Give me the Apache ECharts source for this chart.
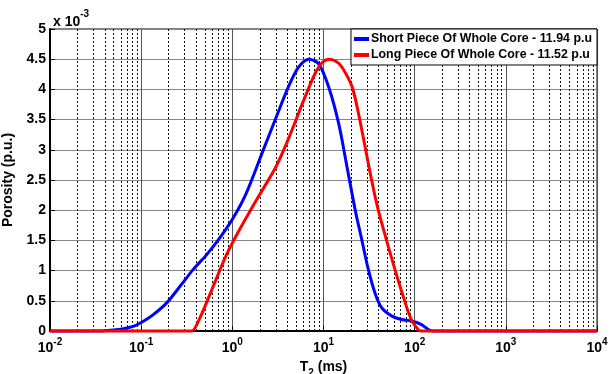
<!DOCTYPE html>
<html>
<head>
<meta charset="utf-8">
<script src="https://cdn.jsdelivr.net/npm/echarts@6/dist/echarts.min.js"></script>
<style>
  html, body { margin: 0; padding: 0; background: #fff; }
  #chart { width: 610px; height: 374px; }
</style>
</head>
<body>
<div id="chart"></div>
<script>
// T2 in ms, porosity in units of 1e-3 p.u.
var shortT2 = [0.01, 0.0251, 0.0398, 0.0596, 0.0832, 0.107, 0.137, 0.192, 0.267, 0.373, 0.521, 0.728, 1.02, 1.42, 2.15, 3.01, 4.20, 5.40, 6.92, 8.89, 11.4, 14.7, 18.2, 22.3, 26.3, 31.0, 36.7, 43.4, 55.7, 71.4, 91.8, 117.5, 139.6, 158.5, 251, 10000];
var shortPor = [0, 0, 0.005, 0.03, 0.08, 0.165, 0.275, 0.47, 0.74, 1.02, 1.26, 1.54, 1.87, 2.28, 2.97, 3.53, 4.07, 4.38, 4.50, 4.42, 4.04, 3.43, 2.7, 2.0, 1.51, 1.02, 0.63, 0.385, 0.25, 0.19, 0.165, 0.11, 0.03, 0, 0, 0];
var longT2 = [0.01, 0.316, 0.358, 0.442, 0.617, 0.861, 1.20, 1.67, 1.98, 3.01, 4.20, 5.85, 8.18, 9.77, 11.75, 13.8, 15.9, 20.5, 24.2, 33.7, 39.9, 49.0, 60.7, 74.6, 91.8, 108.6, 117.5, 158.5, 10000];
var longPor = [0, 0, 0, 0.22, 0.74, 1.26, 1.68, 2.06, 2.25, 2.72, 3.21, 3.76, 4.28, 4.45, 4.50, 4.46, 4.37, 4.05, 3.6, 2.5, 2.0, 1.51, 1.02, 0.58, 0.19, 0.03, 0, 0, 0];
var seriesNames = ['Short Piece Of Whole Core - 11.94 p.u', 'Long Piece Of Whole Core - 11.52 p.u'];
var yTicks = [0, 0.5, 1, 1.5, 2, 2.5, 3, 3.5, 4, 4.5, 5];
var decades = [0.01, 0.1, 1, 10, 100, 1000, 10000];
var minorSteps = [2, 3, 4, 5, 6, 7, 8, 9];

var FONT = 'Liberation Sans';

function pairs(xs, ys) {
  var out = [];
  for (var i = 0; i < xs.length; i++) out.push([xs[i], ys[i]]);
  return out;
}

// dotted minor grid lines at 2..9 x each decade
var minorLines = [];
for (var d = 0; d < decades.length - 1; d++) {
  for (var k = 0; k < minorSteps.length; k++) {
    minorLines.push({ xAxis: decades[d] * minorSteps[k] });
  }
}

var chart = echarts.init(document.getElementById('chart'), null, { renderer: 'canvas' });

var option = {
  animation: false,
  backgroundColor: '#fff',
  textStyle: { fontFamily: FONT },
  title: {
    left: 48, top: 4,
    text: '{b|x 10}{s|-3}',
    textStyle: {
      rich: {
        b: { fontFamily: FONT, fontWeight: 'bold', fontSize: 14, color: '#000', verticalAlign: 'bottom', lineHeight: 20 },
        s: { fontFamily: FONT, fontWeight: 'bold', fontSize: 10, color: '#000', verticalAlign: 'top', lineHeight: 20 }
      }
    }
  },
  legend: {
    data: seriesNames,
    orient: 'vertical',
    right: 13, top: 29,
    z: 10,
    backgroundColor: '#fff',
    borderColor: '#000',
    borderWidth: 1,
    borderRadius: 0,
    padding: [4, 5, 4, 3],
    itemGap: 4,
    itemWidth: 15,
    itemHeight: 4,
    icon: 'rect',
    textStyle: { fontFamily: FONT, fontWeight: 'bold', fontSize: 12.4, color: '#000', padding: [0, 0, 0, -3] }
  },
  grid: {
    left: 50, right: 13, top: 29, bottom: 43,
    containLabel: false,
    outerBoundsMode: 'none',
    show: true, borderColor: '#000', borderWidth: 1, backgroundColor: 'transparent'
  },
  xAxis: {
    type: 'log',
    logBase: 10,
    min: 0.01, max: 10000,
    splitNumber: 6,
    name: '{b|T}{sub|2}{b| (ms)}',
    nameLocation: 'middle',
    nameGap: 25,
    nameTextStyle: {
      rich: {
        b: { fontFamily: FONT, fontWeight: 'bold', fontSize: 14, color: '#000', verticalAlign: 'top', lineHeight: 18 },
        sub: { fontFamily: FONT, fontWeight: 'bold', fontSize: 10, color: '#000', verticalAlign: 'bottom', lineHeight: 18 }
      }
    },
    axisLine: { show: true, lineStyle: { color: '#000', width: 2 } },
    axisTick: { show: true, inside: true, length: 5, lineStyle: { color: '#000' } },
    axisLabel: {
      margin: 6,
      formatter: function (v) {
        return '{b|10}{s|' + Math.round(Math.log10(v)) + '}';
      },
      rich: {
        b: { fontFamily: FONT, fontWeight: 'bold', fontSize: 14, color: '#000', verticalAlign: 'bottom', lineHeight: 18 },
        s: { fontFamily: FONT, fontWeight: 'bold', fontSize: 10, color: '#000', verticalAlign: 'top', lineHeight: 18 }
      }
    },
    splitLine: { show: true, lineStyle: { color: '#555', width: 1, type: 'solid' } }
  },
  yAxis: {
    type: 'value',
    min: yTicks[0], max: yTicks[yTicks.length - 1],
    interval: 0.5,
    name: 'Porosity (p.u.)',
    nameLocation: 'middle',
    nameGap: 34,
    nameTextStyle: { fontFamily: FONT, fontWeight: 'bold', fontSize: 14, color: '#000' },
    axisLine: { show: true, lineStyle: { color: '#000', width: 2 } },
    axisTick: { show: true, inside: true, length: 5, lineStyle: { color: '#000' } },
    axisLabel: { margin: 4, fontFamily: FONT, fontWeight: 'bold', fontSize: 14, color: '#000' },
    splitLine: { show: true, lineStyle: { color: '#888', width: 1 } }
  },
  series: [
    {
      name: 'minor',
      type: 'line',
      data: [],
      silent: true,
      z: 1,
      markLine: {
        silent: true,
        z: 1,
        symbol: 'none',
        label: { show: false },
        lineStyle: { color: '#111', width: 1, type: [2, 2] },
        data: minorLines
      }
    },
    {
      name: seriesNames[0],
      type: 'line',
      data: pairs(shortT2, shortPor),
      smooth: 0.3,
      showSymbol: false,
      clip: false,
      z: 3,
      color: '#0000ff',
      lineStyle: { color: '#0000ff', width: 3 }
    },
    {
      name: seriesNames[1],
      type: 'line',
      data: pairs(longT2, longPor),
      smooth: 0.3,
      showSymbol: false,
      clip: false,
      z: 4,
      color: '#ff0000',
      lineStyle: { color: '#ff0000', width: 3 }
    }
  ]
};

chart.setOption(option);
</script>
</body>
</html>
